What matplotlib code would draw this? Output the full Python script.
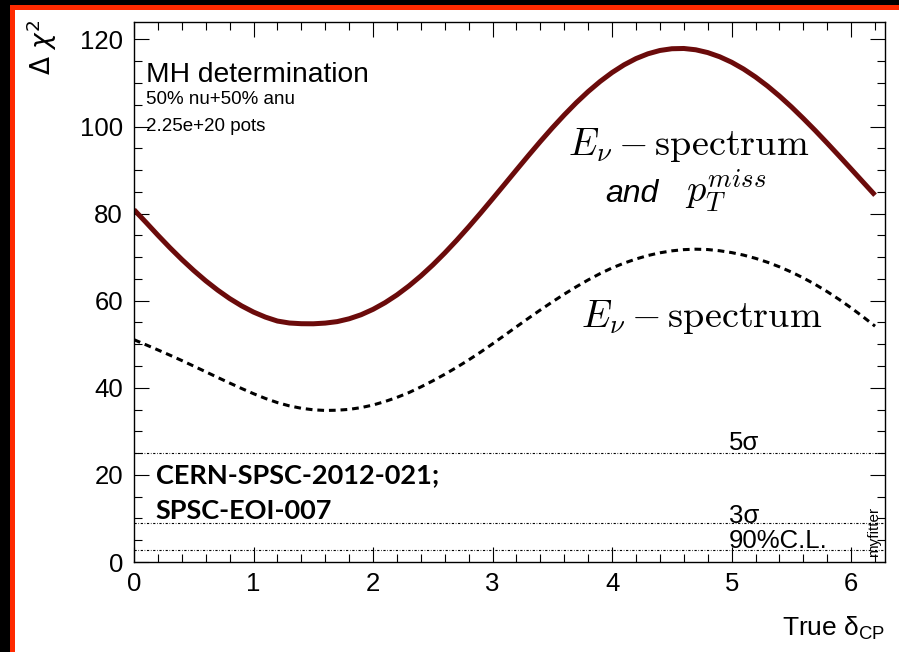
import matplotlib
matplotlib.use("Agg")
import matplotlib.pyplot as plt
from matplotlib.patches import Rectangle
from matplotlib.ticker import MultipleLocator

# values, true delta_CP from 0 to 6.2 in steps of 0.1
delta_cp = [round(0.1 * i, 1) for i in range(63)]
chi2_enu_ptmiss = [80.9, 78.0, 75.04, 72.18, 69.47, 66.93, 64.57, 62.43, 60.50, 58.82,
                   57.39, 56.23, 55.33, 54.88, 54.72, 54.70, 54.86, 55.20, 55.85, 56.78,
                   58.02, 59.54, 61.33, 63.39, 65.69, 68.22, 70.96, 73.88, 76.95, 80.13,
                   83.40, 86.71, 90.04, 93.34, 96.57, 99.69, 102.66, 105.46, 108.03, 110.35,
                   112.40, 114.16, 115.60, 116.70, 117.46, 117.86, 117.92, 117.62, 116.98,
                   116.02, 114.76, 113.20, 111.37, 109.30, 107.00, 104.51, 101.84, 99.07,
                   96.18, 93.23, 90.24, 87.23, 84.23]
chi2_enu = [51.05, 49.88, 48.70, 47.50, 46.26, 44.98, 43.68, 42.38, 41.10, 39.85, 38.65,
            37.55, 36.60, 35.85, 35.30, 34.95, 34.80, 34.85, 35.05, 35.45, 36.05, 36.85,
            37.80, 38.90, 40.20, 41.60, 43.10, 44.70, 46.40, 48.20, 50.10, 52.05, 54.02,
            55.97, 57.88, 59.73, 61.51, 63.20, 64.78, 66.23, 67.53, 68.63, 69.58, 70.38,
            71.00, 71.45, 71.73, 71.83, 71.75, 71.47, 71.05, 70.47, 69.73, 68.83, 67.78,
            66.58, 65.23, 63.73, 62.08, 60.28, 58.35, 56.30, 54.15]
cl_levels = [25.0, 9.0, 2.71]
cl_labels = ["5σ", "3σ", "90%C.L."]
cl_label_y = [25.7, 8.9, 3.1]

SANS = ["Liberation Sans", "DejaVu Sans"]
plt.rcParams["font.family"] = SANS
plt.rcParams["mathtext.fontset"] = "cm"

fig = plt.figure(figsize=(8.99, 6.52), dpi=100)
fig.patch.set_facecolor("black")
fig.add_artist(Rectangle((10 / 899, 0), 1, 1 - 5 / 652, transform=fig.transFigure,
                         facecolor="#ff2a00", edgecolor="none", zorder=-10))
fig.add_artist(Rectangle((15 / 899, 0), 1, 1 - 10 / 652, transform=fig.transFigure,
                         facecolor="white", edgecolor="none", zorder=-9))

ax = fig.add_axes([134 / 899, 1 - 562 / 652, 751 / 899, 540 / 652])
ax.set_zorder(1)
ax.set_xlim(0, 6.2832)
ax.set_ylim(0, 124)

ax.plot(delta_cp, chi2_enu_ptmiss, color="#6b0b0b", lw=3.6, solid_capstyle="butt")
ax.plot(delta_cp, chi2_enu, color="black", lw=2.2, linestyle=(0, (2.2, 1.6)))

for lvl, lab, ly in zip(cl_levels, cl_labels, cl_label_y):
    ax.axhline(lvl, color="black", lw=0.8, linestyle=(0, (2, 1.5, 0.6, 1.5)))
    ax.text(4.98, ly, lab, fontsize=18.5, ha="left", va="baseline")

ax.xaxis.set_major_locator(MultipleLocator(1))
ax.xaxis.set_minor_locator(MultipleLocator(0.2))
ax.yaxis.set_major_locator(MultipleLocator(20))
ax.yaxis.set_minor_locator(MultipleLocator(5))
ax.tick_params(which="both", direction="in", top=True, right=True, width=0.8)
ax.tick_params(which="major", length=11, labelsize=18.5)
ax.tick_params(axis="x", which="major", pad=7)
ax.tick_params(axis="y", which="major", pad=8)
ax.tick_params(which="minor", length=6)
for s in ax.spines.values():
    s.set_linewidth(1.0)

fig.text(42 / 899, 1 - 20 / 652, r"$\Delta\ \chi^2$", rotation=90, fontsize=19,
         ha="center", va="top", math_fontfamily="dejavusans")
fig.text(885 / 899, 1 - 642 / 652, r"True $\mathregular{\delta_{CP}}$", fontsize=19,
         ha="right", va="bottom", math_fontfamily="dejavusans")

ax.text(0.1, 110.2, "MH determination", fontsize=20.3, ha="left", va="baseline")
ax.text(0.1, 105.1, "50% nu+50% anu", fontsize=13.5, ha="left", va="baseline")
ax.text(0.1, 98.9, "2.25e+20 pots", fontsize=13.5, ha="left", va="baseline")

ax.text(5.65, 93.5, r"$E_{\nu}-\mathrm{spectrum}$", fontsize=27.5, ha="right", va="baseline")
ax.text(3.94, 82.7, "and", fontsize=23, style="italic", ha="left", va="baseline")
ax.text(4.61, 82.7, r"$p_{T}^{miss}$", fontsize=27.5, ha="left", va="baseline")
ax.text(5.76, 54.0, r"$E_{\nu}-\mathrm{spectrum}$", fontsize=27.5, ha="right", va="baseline")

cern_font = ["Lato", "DejaVu Sans"]
ax.text(0.18, 18.1, "CERN-SPSC-2012-021;", fontsize=19.5, weight="bold", family=cern_font,
        ha="left", va="baseline")
ax.text(0.18, 9.8, "SPSC-EOI-007", fontsize=19.5, weight="bold", family=cern_font,
        ha="left", va="baseline")
ax.text(6.19, 1.2, "myfitter", fontsize=11, rotation=90, ha="center", va="bottom")

fig.savefig("out.png", dpi=100, facecolor=fig.get_facecolor())
